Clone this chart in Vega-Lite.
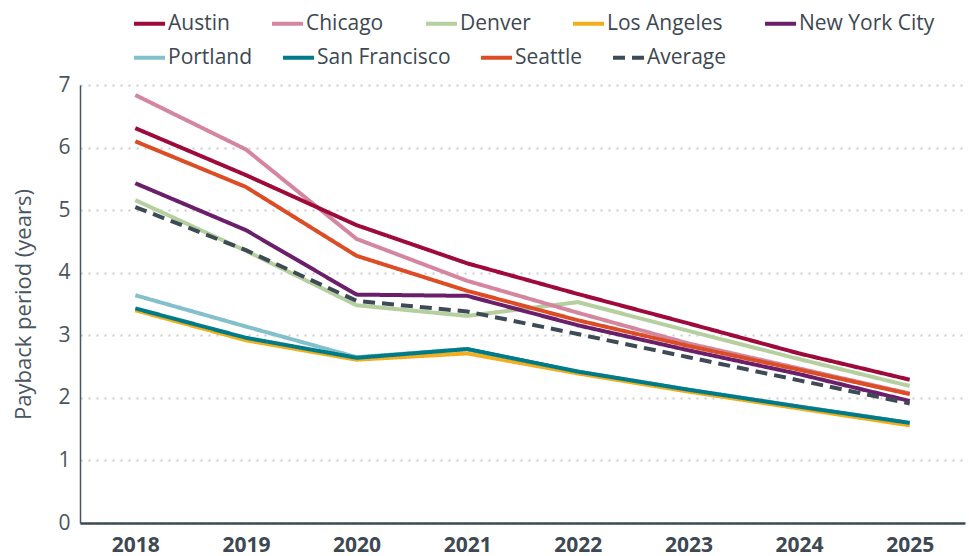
{
  "$schema": "https://vega.github.io/schema/vega-lite/v6.json",
  "autosize": "none",
  "width": 885,
  "height": 438,
  "padding": {"left": 80, "top": 85, "right": 4, "bottom": 33},
  "background": "white",
  "config": {
    "view": {"stroke": null},
    "font": "Open Sans"
  },
  "data": {
    "values": [
      {"city": "Portland", "year": "2018", "value": 3.64},
      {"city": "Portland", "year": "2019", "value": 3.14},
      {"city": "Portland", "year": "2020", "value": 2.65},
      {"city": "Portland", "year": "2021", "value": 2.78},
      {"city": "Portland", "year": "2022", "value": 2.42},
      {"city": "Portland", "year": "2023", "value": 2.13},
      {"city": "Portland", "year": "2024", "value": 1.86},
      {"city": "Portland", "year": "2025", "value": 1.6},
      {"city": "Los Angeles", "year": "2018", "value": 3.4},
      {"city": "Los Angeles", "year": "2019", "value": 2.92},
      {"city": "Los Angeles", "year": "2020", "value": 2.61},
      {"city": "Los Angeles", "year": "2021", "value": 2.71},
      {"city": "Los Angeles", "year": "2022", "value": 2.39},
      {"city": "Los Angeles", "year": "2023", "value": 2.1},
      {"city": "Los Angeles", "year": "2024", "value": 1.83},
      {"city": "Los Angeles", "year": "2025", "value": 1.56},
      {"city": "San Francisco", "year": "2018", "value": 3.43},
      {"city": "San Francisco", "year": "2019", "value": 2.96},
      {"city": "San Francisco", "year": "2020", "value": 2.64},
      {"city": "San Francisco", "year": "2021", "value": 2.78},
      {"city": "San Francisco", "year": "2022", "value": 2.42},
      {"city": "San Francisco", "year": "2023", "value": 2.13},
      {"city": "San Francisco", "year": "2024", "value": 1.86},
      {"city": "San Francisco", "year": "2025", "value": 1.6},
      {"city": "Denver", "year": "2018", "value": 5.16},
      {"city": "Denver", "year": "2019", "value": 4.35},
      {"city": "Denver", "year": "2020", "value": 3.48},
      {"city": "Denver", "year": "2021", "value": 3.31},
      {"city": "Denver", "year": "2022", "value": 3.53},
      {"city": "Denver", "year": "2023", "value": 3.07},
      {"city": "Denver", "year": "2024", "value": 2.62},
      {"city": "Denver", "year": "2025", "value": 2.19},
      {"city": "Chicago", "year": "2018", "value": 6.84},
      {"city": "Chicago", "year": "2019", "value": 5.97},
      {"city": "Chicago", "year": "2020", "value": 4.54},
      {"city": "Chicago", "year": "2021", "value": 3.87},
      {"city": "Chicago", "year": "2022", "value": 3.36},
      {"city": "Chicago", "year": "2023", "value": 2.87},
      {"city": "Chicago", "year": "2024", "value": 2.47},
      {"city": "Chicago", "year": "2025", "value": 2.07},
      {"city": "Seattle", "year": "2018", "value": 6.1},
      {"city": "Seattle", "year": "2019", "value": 5.37},
      {"city": "Seattle", "year": "2020", "value": 4.27},
      {"city": "Seattle", "year": "2021", "value": 3.71},
      {"city": "Seattle", "year": "2022", "value": 3.24},
      {"city": "Seattle", "year": "2023", "value": 2.83},
      {"city": "Seattle", "year": "2024", "value": 2.45},
      {"city": "Seattle", "year": "2025", "value": 2.06},
      {"city": "New York City", "year": "2018", "value": 5.43},
      {"city": "New York City", "year": "2019", "value": 4.68},
      {"city": "New York City", "year": "2020", "value": 3.65},
      {"city": "New York City", "year": "2021", "value": 3.63},
      {"city": "New York City", "year": "2022", "value": 3.16},
      {"city": "New York City", "year": "2023", "value": 2.76},
      {"city": "New York City", "year": "2024", "value": 2.38},
      {"city": "New York City", "year": "2025", "value": 1.95},
      {"city": "Austin", "year": "2018", "value": 6.31},
      {"city": "Austin", "year": "2019", "value": 5.56},
      {"city": "Austin", "year": "2020", "value": 4.76},
      {"city": "Austin", "year": "2021", "value": 4.15},
      {"city": "Austin", "year": "2022", "value": 3.66},
      {"city": "Austin", "year": "2023", "value": 3.19},
      {"city": "Austin", "year": "2024", "value": 2.71},
      {"city": "Austin", "year": "2025", "value": 2.29},
      {"city": "Average", "year": "2018", "value": 5.05},
      {"city": "Average", "year": "2019", "value": 4.36},
      {"city": "Average", "year": "2020", "value": 3.55},
      {"city": "Average", "year": "2021", "value": 3.38},
      {"city": "Average", "year": "2022", "value": 3.02},
      {"city": "Average", "year": "2023", "value": 2.65},
      {"city": "Average", "year": "2024", "value": 2.28},
      {"city": "Average", "year": "2025", "value": 1.91}
    ]
  },
  "mark": {"type": "line", "strokeWidth": 4, "strokeJoin": "round"},
  "encoding": {
    "x": {
      "field": "year",
      "type": "ordinal",
      "scale": {"type": "point", "padding": 0.5},
      "axis": {
        "title": null,
        "labelAngle": 0,
        "ticks": false,
        "grid": false,
        "domainColor": "#3d4852",
        "domainWidth": 2.5,
        "labelFont": "Open Sans",
        "labelFontWeight": "bold",
        "labelFontSize": 21,
        "labelColor": "#3d4852",
        "labelPadding": 11
      }
    },
    "y": {
      "field": "value",
      "type": "quantitative",
      "scale": {"domain": [0, 7]},
      "axis": {
        "title": "Payback period (years)",
        "titleFont": "Open Sans",
        "titleFontWeight": "normal",
        "titleFontSize": 22,
        "titleColor": "#4a5560",
        "titlePadding": 22,
        "values": [0, 1, 2, 3, 4, 5, 6, 7],
        "ticks": false,
        "labelFont": "Open Sans",
        "labelFontSize": 21,
        "labelColor": "#4a5560",
        "labelPadding": 10,
        "domainColor": "#4a5560",
        "domainWidth": 1.5,
        "grid": true,
        "gridColor": "#cccccc",
        "gridWidth": 2,
        "gridDash": [2, 6]
      }
    },
    "color": {
      "field": "city",
      "type": "nominal",
      "scale": {
        "domain": ["Austin", "Chicago", "Denver", "Los Angeles", "New York City", "Portland", "San Francisco", "Seattle", "Average"],
        "range": ["#9e0b3b", "#d4869f", "#b5cf9f", "#f2ae1c", "#6b1f6b", "#82c1cc", "#007b8a", "#dc4d26", "#3e4a55"]
      },
      "legend": {
        "title": null,
        "orient": "none",
        "legendX": 52,
        "legendY": -79,
        "direction": "horizontal",
        "values": ["Austin", "Chicago", "Denver", "Los Angeles", "New York City"],
        "symbolType": "stroke",
        "symbolSize": 961,
        "symbolStrokeWidth": 4,
        "labelFont": "Open Sans",
        "labelFontSize": 21,
        "labelColor": "#3d4852",
        "labelOffset": 1,
        "columnPadding": 34
      }
    },
    "strokeDash": {
      "field": "city",
      "type": "nominal",
      "scale": {
        "domain": ["Portland", "San Francisco", "Seattle", "Average", "Austin", "Chicago", "Denver", "Los Angeles", "New York City"],
        "range": [[1, 0], [1, 0], [1, 0], [12, 7], [1, 0], [1, 0], [1, 0], [1, 0], [1, 0]]
      },
      "legend": {
        "title": null,
        "orient": "none",
        "legendX": 52,
        "legendY": -45,
        "direction": "horizontal",
        "values": ["Portland", "San Francisco", "Seattle", "Average"],
        "symbolType": "stroke",
        "symbolSize": 961,
        "symbolStrokeWidth": 4,
        "symbolDash": [12, 7],
        "labelFont": "Open Sans",
        "labelFontSize": 21,
        "labelColor": "#3d4852",
        "labelOffset": 1,
        "columnPadding": 22,
        "encode": {
          "symbols": {
            "update": {
              "stroke": {"signal": "scale('color', datum.value)"},
              "strokeWidth": {"value": 4}
            }
          }
        }
      }
    }
  }
}
